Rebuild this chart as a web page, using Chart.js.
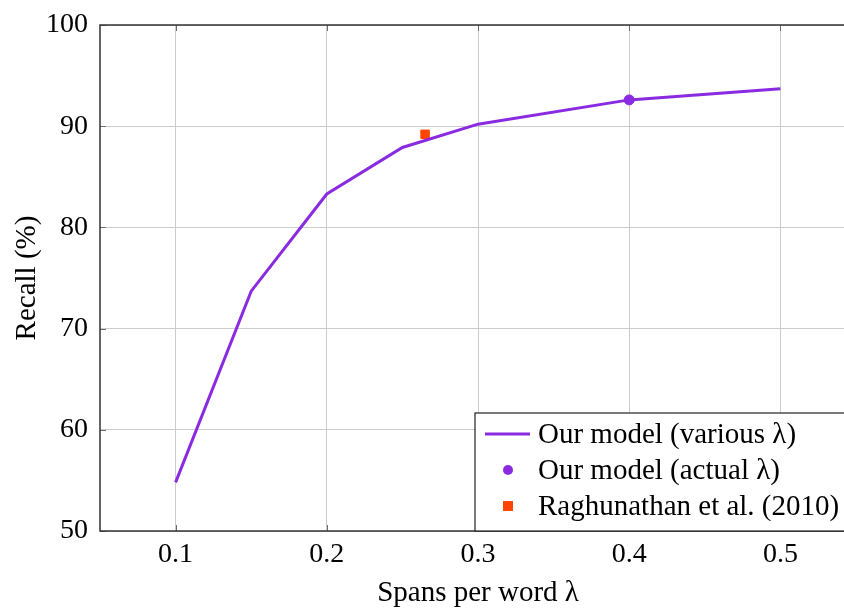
<!DOCTYPE html>
<html>
<head>
<meta charset="utf-8">
<script src="https://cdn.jsdelivr.net/npm/chart.js@4.4.1/dist/chart.umd.min.js"></script>
<style>
  html, body { margin: 0; padding: 0; background: #fff; overflow: hidden; }
  #wrap { position: relative; width: 863px; height: 608px; }
</style>
</head>
<body>
<div id="wrap"><canvas id="chart" width="863" height="608"></canvas></div>
<script>
// Data
const spans = [0.1, 0.15, 0.2, 0.25, 0.3, 0.4, 0.5];
const recall = [54.8, 73.7, 83.3, 87.9, 90.2, 92.6, 93.7];
const actualSpan = [0.4];
const actualRecall = [92.6];
const raghuSpan = [0.265];
const raghuRecall = [89.2];
const xTicks = [0.1, 0.2, 0.3, 0.4, 0.5];
const yTicks = [50, 60, 70, 80, 90, 100];
const legendLabels = ['Our model (various \u03bb)', 'Our model (actual \u03bb)', 'Raghunathan et al. (2010)'];

const PURPLE = '#8a2be2';
const ORANGE = '#ff4500';
const SERIF = '"Liberation Serif", "Times New Roman", serif';

const toPts = (xs, ys) => xs.map((x, i) => ({ x, y: ys[i] }));

// Box, inner ticks and legend
const framePlugin = {
  id: 'frame',
  afterDraw(chart) {
    const { ctx, chartArea: a, scales } = chart;
    ctx.save();
    // inner tick marks
    ctx.strokeStyle = '#6b6b6b';
    ctx.lineWidth = 1;
    xTicks.forEach(t => {
      const px = Math.round(scales.x.getPixelForValue(t)) + 0.5;
      ctx.beginPath();
      ctx.moveTo(px, a.bottom); ctx.lineTo(px, a.bottom - 6);
      ctx.moveTo(px, a.top); ctx.lineTo(px, a.top + 6);
      ctx.stroke();
    });
    yTicks.forEach(t => {
      const py = Math.round(scales.y.getPixelForValue(t)) + 0.5;
      ctx.beginPath();
      ctx.moveTo(a.left, py); ctx.lineTo(a.left + 6, py);
      ctx.stroke();
    });
    // frame
    ctx.strokeStyle = '#333';
    ctx.lineWidth = 1.5;
    ctx.strokeRect(a.left, a.top, a.right - a.left, a.bottom - a.top);

    // legend
    const lx = 475, ly = 413, lw = 420, lh = a.bottom - 413;
    ctx.fillStyle = '#fff';
    ctx.fillRect(lx, ly, lw, lh);
    ctx.strokeStyle = '#222';
    ctx.lineWidth = 1.2;
    ctx.strokeRect(lx, ly, lw, lh);
    const rows = [434, 470, 506];
    ctx.strokeStyle = PURPLE;
    ctx.lineWidth = 3;
    ctx.beginPath();
    ctx.moveTo(485, rows[0]); ctx.lineTo(530, rows[0]);
    ctx.stroke();
    ctx.fillStyle = PURPLE;
    ctx.beginPath();
    ctx.arc(508, rows[1], 5, 0, Math.PI * 2);
    ctx.fill();
    ctx.fillStyle = ORANGE;
    ctx.fillRect(503, rows[2] - 5, 10, 10);
    ctx.fillStyle = '#000';
    ctx.font = '29px ' + SERIF;
    ctx.textBaseline = 'middle';
    ctx.textAlign = 'left';
    legendLabels.forEach((s, i) => ctx.fillText(s, 538, rows[i] + 1));
    ctx.restore();
  }
};

new Chart(document.getElementById('chart'), {
  type: 'scatter',
  data: {
    datasets: [
      {
        label: legendLabels[0],
        data: toPts(spans, recall),
        showLine: true,
        borderColor: PURPLE,
        borderWidth: 3,
        pointRadius: 0,
        fill: false
      },
      {
        label: legendLabels[1],
        data: toPts(actualSpan, actualRecall),
        backgroundColor: PURPLE,
        borderColor: PURPLE,
        pointRadius: 5,
        pointStyle: 'circle'
      },
      {
        label: legendLabels[2],
        data: toPts(raghuSpan, raghuRecall),
        backgroundColor: ORANGE,
        borderColor: ORANGE,
        pointRadius: 6,
        pointStyle: 'rect'
      }
    ]
  },
  options: {
    responsive: false,
    animation: false,
    layout: { padding: { top: 25, right: 2, bottom: 0, left: 0 } },
    plugins: { legend: { display: false }, tooltip: { enabled: false } },
    scales: {
      x: {
        type: 'linear',
        min: 0.05,
        max: 0.55,
        afterBuildTicks: s => { s.ticks = xTicks.map(v => ({ value: v })); },
        afterFit: s => { s.height = 77; },
        ticks: {
          color: '#000',
          padding: 7,
          autoSkip: false,
          maxRotation: 0,
          font: { family: SERIF, size: 28 },
          callback: v => v.toFixed(1)
        },
        grid: { color: '#cccccc', lineWidth: 1, drawTicks: false },
        border: { display: false },
        title: {
          display: true,
          text: 'Spans per word \u03bb',
          color: '#000',
          font: { family: SERIF, size: 29, lineHeight: 1 },
          padding: { top: 4, bottom: 0 }
        }
      },
      y: {
        type: 'linear',
        min: 50,
        max: 100,
        afterBuildTicks: s => { s.ticks = yTicks.map(v => ({ value: v })); },
        afterFit: s => { s.width = 100; s.paddingTop = 0; s.paddingBottom = 0; },
        ticks: {
          color: '#000',
          padding: 12,
          autoSkip: false,
          font: { family: SERIF, size: 28 }
        },
        grid: { color: '#cccccc', lineWidth: 1, drawTicks: false },
        border: { display: false },
        title: {
          display: true,
          text: 'Recall (%)',
          color: '#000',
          font: { family: SERIF, size: 29 },
          padding: { top: 10, bottom: 0 }
        }
      }
    }
  },
  plugins: [framePlugin]
});
</script>
</body>
</html>
